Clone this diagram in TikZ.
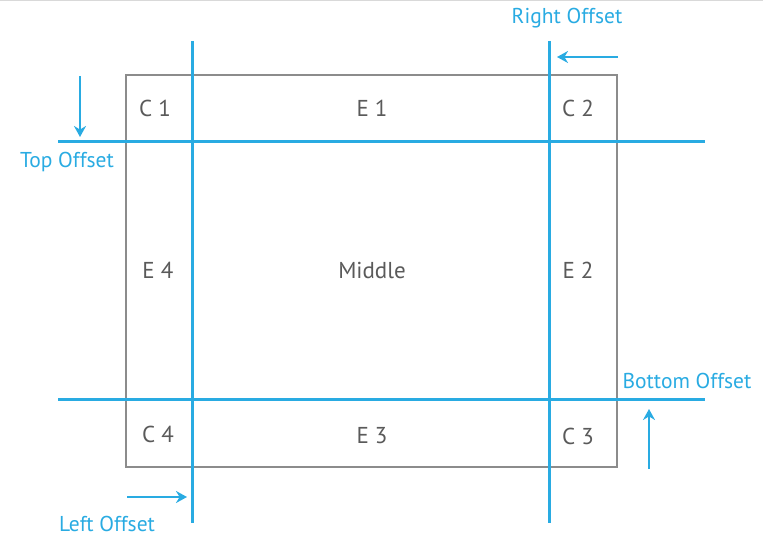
\documentclass[tikz,border=0pt]{standalone}
\usepackage{fontspec}
\setmainfont{PT Sans}
\usepackage{xcolor}
\usetikzlibrary{arrows.meta}
\definecolor{offsetblue}{HTML}{29ABE2}
\definecolor{framegray}{HTML}{8C8C8C}
\definecolor{labelgray}{HTML}{5A5A5A}

\begin{document}
\begin{tikzpicture}[x=1pt, y=-1pt,
    cell/.style={text=labelgray, font=\fontsize{23}{23}\selectfont},
    offsetlabel/.style={text=offsetblue, font=\fontsize{21.5}{21.5}\selectfont},
    guide/.style={draw=offsetblue, line width=3pt},
    shiftarrow/.style={draw=offsetblue, line width=2pt, -{Stealth[length=11pt, width=12pt]}}]
  \useasboundingbox (0,0) rectangle (763,553);
  \draw[black!15, line width=1pt] (0,1) -- (763,1);

  % the frame
  \coordinate (frameNW) at (126,75);
  \coordinate (frameSE) at (617,467);
  \draw[framegray, line width=2pt] (frameNW) rectangle (frameSE);

  % the four offset guides
  \coordinate (leftTop) at (192,41);    \coordinate (leftBot) at (192,523);
  \coordinate (rightTop) at (549,41);   \coordinate (rightBot) at (549,523);
  \coordinate (topL) at (58,142);       \coordinate (topR) at (705,142);
  \coordinate (botL) at (58,399);       \coordinate (botR) at (705,399);
  \draw[guide] (leftTop) -- (leftBot);
  \draw[guide] (rightTop) -- (rightBot);
  \draw[guide] (topL) -- (topR);
  \draw[guide] (botL) -- (botR);

  % the nine cells
  \node[cell] (c1) at (155,108) {C 1};
  \node[cell] (e1) at (372,108) {E 1};
  \node[cell] (c2) at (578,108) {C 2};
  \node[cell] (e4) at (158,270) {E 4};
  \node[cell] (middle) at (372,270) {Middle};
  \node[cell] (e2) at (578,270) {E 2};
  \node[cell] (c4) at (158,434) {C 4};
  \node[cell] (e3) at (372,436) {E 3};
  \node[cell] (c3) at (578,436) {C 3};

  % offset labels
  \node[offsetlabel] (rightOff) at (567,18) {Right Offset};
  \node[offsetlabel] (topOff) at (67,162) {Top Offset};
  \node[offsetlabel] (bottomOff) at (687,381) {Bottom Offset};
  \node[offsetlabel] (leftOff) at (107,524) {Left Offset};

  % arrows
  \coordinate (rightArrowA) at (618,57);  \coordinate (rightArrowB) at (557,57);
  \coordinate (topArrowA) at (80,76);     \coordinate (topArrowB) at (80,137);
  \coordinate (leftArrowA) at (127,497);  \coordinate (leftArrowB) at (187,497);
  \coordinate (botArrowA) at (649,469);   \coordinate (botArrowB) at (649,409);
  \draw[shiftarrow] (rightArrowA) -- (rightArrowB);
  \draw[shiftarrow] (topArrowA) -- (topArrowB);
  \draw[shiftarrow] (leftArrowA) -- (leftArrowB);
  \draw[shiftarrow] (botArrowA) -- (botArrowB);
\end{tikzpicture}
\end{document}
